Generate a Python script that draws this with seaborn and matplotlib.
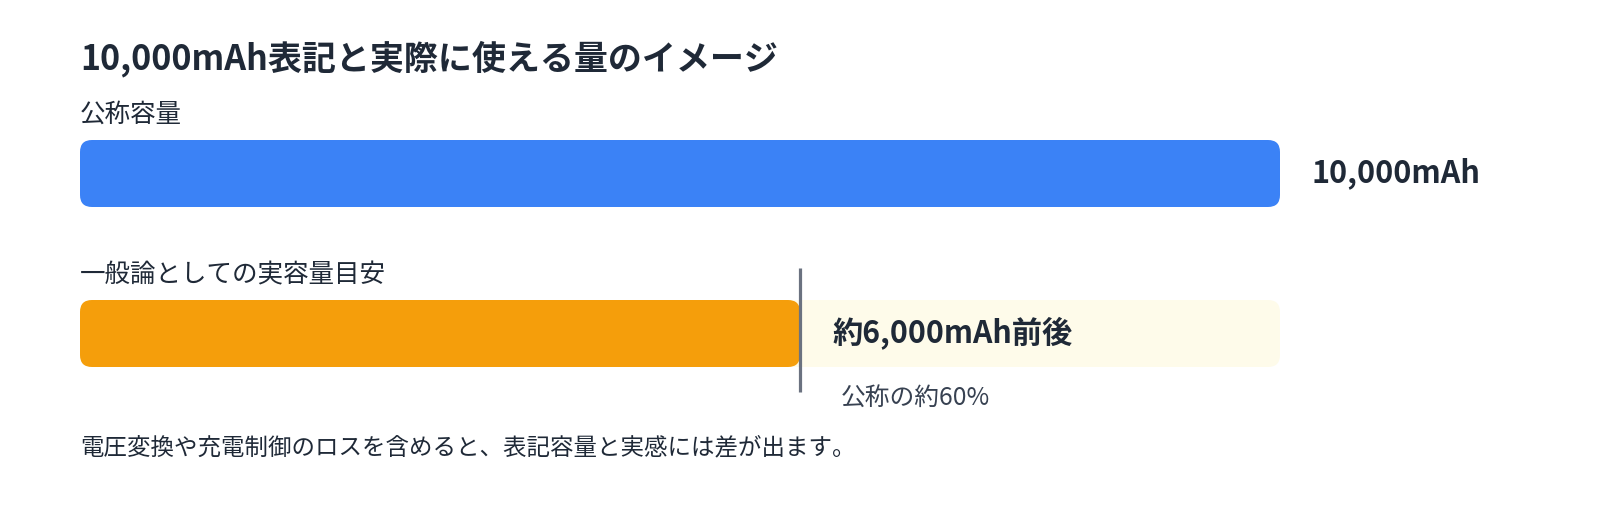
import matplotlib
matplotlib.use("Agg")
import matplotlib.pyplot as plt
import seaborn as sns
import pandas as pd
import numpy as np
from matplotlib.patches import FancyBboxPatch

sns.set_theme(style="white")
plt.rcParams['font.family'] = ['Noto Sans CJK JP', 'DejaVu Sans']

# ---- data ----
title = "10,000mAh表記と実際に使える量のイメージ"
categories = ["公称容量", "一般論としての実容量目安"]
rated_mAh = [10000, 10000]
shown_mAh = [10000, 6000]
value_labels = ["10,000mAh", "約6,000mAh前後"]
ratio_label = "公称の約60%"
footnote = "電圧変換や充電制御のロスを含めると、表記容量と実感には差が出ます。"

BLUE = "#3B82F6"
ORANGE = "#F59E0B"
PALE = "#FEFBEA"
TEXT = "#1F2937"
LINE = "#6B7280"

W, H, DPI = 1600, 520, 100
fig = plt.figure(figsize=(W / DPI, H / DPI), dpi=DPI)
ax = fig.add_axes([0, 0, 1, 1])

# pixel mapping helpers
x0_px, xscale = 80, 1200 / 10000          # px per mAh
y0_px, yscale = 173.5, 160                 # px per category step
bar_w = 67 / 160

df_bg = pd.DataFrame({"cat": categories, "val": rated_mAh})
df_fg = pd.DataFrame({"cat": categories, "val": shown_mAh})

sns.barplot(data=df_bg, y="cat", x="val", hue="cat", palette=[BLUE, PALE],
            width=bar_w, ax=ax, legend=False, orient="h", zorder=1,
            saturation=1)
sns.barplot(data=df_fg.iloc[[1]], y="cat", x="val", hue="cat", palette=[ORANGE],
            width=bar_w, ax=ax, legend=False, orient="h", zorder=2,
            order=categories, hue_order=[categories[1]], saturation=1)

ax.set_xlim(-x0_px / xscale, (W - x0_px) / xscale)
ax.set_ylim((H - y0_px) / yscale, -y0_px / yscale)
ax.set_axis_off()

# rounded corners
rad_px = 12
aspect = xscale / yscale
for p in list(ax.patches):
    x, y = p.get_x(), p.get_y()
    w, h = p.get_width(), p.get_height()
    if not np.isfinite(w) or w == 0:
        p.remove()
        continue
    fc = p.get_facecolor()
    z = p.get_zorder()
    p.remove()
    fb = FancyBboxPatch((x, y), w, h,
                        boxstyle=f"round,pad=0,rounding_size={rad_px / xscale}",
                        mutation_aspect=aspect, facecolor=fc, edgecolor="none",
                        zorder=z)
    ax.add_patch(fb)

# vertical marker at actual value
ax.vlines(shown_mAh[1], 1 - bar_w / 2 - 32 / yscale, 1 + bar_w / 2 + 25 / yscale,
          color=LINE, linewidth=2.3, zorder=3)

def px2y(py):
    return (py - y0_px) / yscale

# texts
ax.text(0, px2y(59), title, fontsize=24.5, fontweight="bold", color=TEXT,
        va="center", ha="left")
ax.text(0, px2y(115), categories[0], fontsize=18.4, color=TEXT, va="center", ha="left")
ax.text(0, px2y(275.5), categories[1], fontsize=18.4, color=TEXT, va="center", ha="left")
ax.text(rated_mAh[0] + 31 / xscale, 0, value_labels[0], fontsize=22,
        fontweight="bold", color=TEXT, va="center", ha="left")
ax.text(shown_mAh[1] + 32 / xscale, 1, value_labels[1], fontsize=21.8,
        fontweight="bold", color=TEXT, va="center", ha="left", zorder=4)
ax.text(shown_mAh[1] + 41 / xscale, px2y(398), ratio_label, fontsize=17.8,
        color="#374151", va="center", ha="left")
ax.text(0, px2y(448), footnote, fontsize=16.9, color=TEXT, va="center", ha="left")

fig.savefig("out.png", dpi=DPI, facecolor="white")
